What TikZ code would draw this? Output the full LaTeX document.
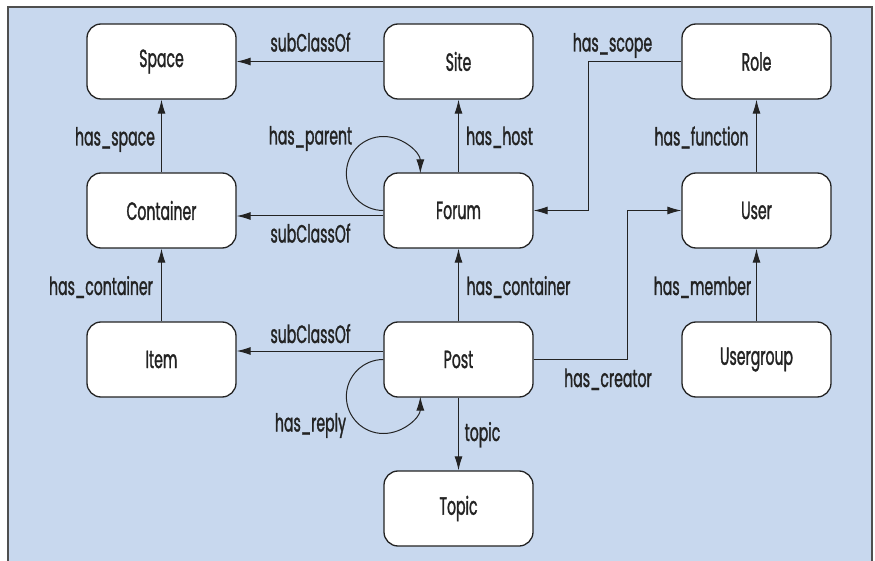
\documentclass[tikz,border=0pt]{standalone}
\usepackage{fontspec}
\setmainfont{Poppins}[FakeStretch=0.565,FakeBold=1.2]
\usetikzlibrary{arrows.meta}
\definecolor{bgblue}{RGB}{200,216,238}
\definecolor{ink}{RGB}{35,35,35}
\tikzset{
  box/.style={draw=ink, line width=1.3bp, fill=white, rounded corners=14bp,
    minimum width=149bp, minimum height=75bp, inner sep=0pt, text=ink,
    font=\fontsize{25}{28}\selectfont},
  lbl/.style={anchor=base, inner sep=0pt, text=ink, font=\fontsize{25}{28}\selectfont},
  arr/.style={draw=ink, line width=1bp, -{Latex[length=14bp,width=8bp]}}
}
\begin{document}
\begin{tikzpicture}[x=1bp,y=-1bp]
\useasboundingbox (0,0) rectangle (875,561);
\fill[bgblue] (8,7) rectangle (872,561);
\draw[ink!80, line width=1.5bp] (8,561) -- (8,7) -- (872,7) -- (872,561);

% nodes
\node[box] (space) at (161.5,61.5) {Space};
\node[box] (site) at (458.5,61.5) {Site};
\node[box] (role) at (756.5,61.5) {Role};
\node[box] (container) at (161.5,210.5) {Container};
\node[box] (forum) at (458.5,210.5) {Forum};
\node[box] (user) at (756.5,210.5) {User};
\node[box] (item) at (161.5,359.5) {Item};
\node[box] (post) at (458.5,359.5) {Post};
\node[box] (usergroup) at (756.5,359.5) {Usergroup};
\node[box] (topic) at (458.5,508.5) {Topic};

% connectors
\draw[arr] (site) -- (space);
\draw[arr] (container) -- (space);
\draw[arr] (item) -- (container);
\draw[arr] ([yshift=-5.5bp]forum.west) -- ([yshift=-5.5bp]container.east);
\draw[arr] ([yshift=8.5bp]post.west) -- ([yshift=8.5bp]item.east);
\draw[arr] (forum) -- (site);
\draw[arr] (post) -- (forum);
\draw[arr] (post) -- (topic);
\draw[arr] (user) -- (role);
\draw[arr] (usergroup) -- (user);
\draw[arr] (role.west) -- ++(-93,0) |- (forum.east);
\draw[arr] (post.east) -- ++(94,0) |- (user.west);
\draw[arr] (forum.west) arc[start angle=270, end angle=0, radius=37bp];
\draw[arr] (post.west) arc[start angle=90, end angle=360, radius=37bp];

% labels
\node[lbl] (l1) at (310.5,51.5) {subClassOf};
\node[lbl] (l2) at (115,145.5) {has\_space};
\node[lbl] (l3) at (310.5,144.5) {has\_parent};
\node[lbl] (l4) at (499.5,145) {has\_host};
\node[lbl] (l5) at (612.5,51.5) {has\_scope};
\node[lbl] (l6) at (701.5,145.5) {has\_function};
\node[lbl] (l7) at (310.5,242.5) {subClassOf};
\node[lbl] (l8) at (101,295) {has\_container};
\node[lbl] (l9) at (518.5,295) {has\_container};
\node[lbl] (l10) at (702.5,295) {has\_member};
\node[lbl] (l11) at (310.5,343) {subClassOf};
\node[lbl] (l12) at (608,387) {has\_creator};
\node[lbl] (l13) at (310.5,431.5) {has\_reply};
\node[lbl] (l14) at (482.5,441) {topic};
\end{tikzpicture}
\end{document}
